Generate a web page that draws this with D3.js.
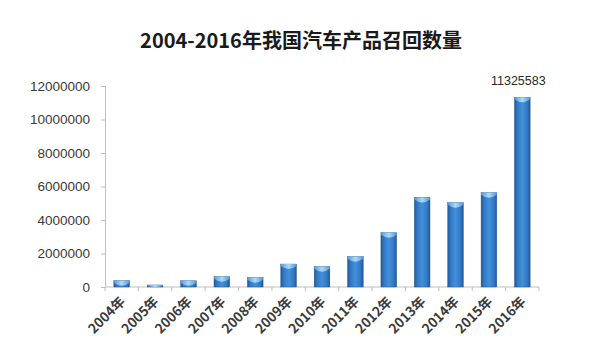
<!DOCTYPE html>
<html><head><meta charset="utf-8">
<script src="https://cdn.jsdelivr.net/npm/d3@7"></script>
<style>body{margin:0;background:#fff}svg{display:block}</style>
</head><body>
<script>
const categories = ["2004年","2005年","2006年","2007年","2008年","2009年","2010年","2011年","2012年","2013年","2014年","2015年","2016年"];
const values = [375000, 120000, 370000, 615000, 555000, 1370000, 1210000, 1810000, 3240000, 5350000, 5030000, 5630000, 11325583];
const yTicks = [0, 2000000, 4000000, 6000000, 8000000, 10000000, 12000000];
const title = "2004-2016年我国汽车产品召回数量";
const labeledIndex = 12;

const W = 600, H = 359;
const svg = d3.select("body").append("svg").attr("width", W).attr("height", H);
const defs = svg.append("defs");
const g1 = defs.append("linearGradient").attr("id","barG").attr("x1","0").attr("x2","1").attr("y1","0").attr("y2","0");
g1.append("stop").attr("offset","0").attr("stop-color","#22599a");
g1.append("stop").attr("offset","0.2").attr("stop-color","#3479c4");
g1.append("stop").attr("offset","0.5").attr("stop-color","#4290dc");
g1.append("stop").attr("offset","0.8").attr("stop-color","#3479c4");
g1.append("stop").attr("offset","1").attr("stop-color","#22599a");
const g2 = defs.append("linearGradient").attr("id","capG").attr("x1","0").attr("x2","1").attr("y1","0").attr("y2","0");
g2.append("stop").attr("offset","0").attr("stop-color","#5597d6");
g2.append("stop").attr("offset","0.5").attr("stop-color","#abdaf9");
g2.append("stop").attr("offset","1").attr("stop-color","#5597d6");

const x = d3.scaleBand().domain(categories).range([105, 539]).paddingInner(0.53).paddingOuter(0.265);
const y = d3.scaleLinear().domain([0, 12000000]).range([287, 86]);

svg.append("text").attr("x", 301).attr("y", 48).attr("text-anchor","middle")
  .attr("font-family","'Noto Sans CJK SC', sans-serif").attr("font-weight","bold")
  .attr("font-size", 20).attr("fill","#1a1a1a").text(title);

// Y axis
const ya = svg.append("g").attr("transform","translate(105,0)")
  .call(d3.axisLeft(y).tickValues(yTicks).tickSize(4).tickPadding(11).tickFormat(d3.format("d")));
ya.select(".domain").attr("stroke","#bfbfbf");
ya.selectAll(".tick line").attr("stroke","#bfbfbf");
ya.selectAll(".tick text").attr("font-family","'Liberation Sans', Arial, sans-serif")
  .attr("font-size", 13.5).attr("fill","#3a3a3a");

// X axis
const xb = d3.scaleLinear().domain([0, categories.length]).range([105, 539]);
const xa = svg.append("g").attr("transform","translate(0,287)");
xa.append("line").attr("x1",105).attr("x2",539).attr("stroke","#bfbfbf");
xa.selectAll("line.t").data(d3.range(categories.length+1)).join("line").attr("class","t")
  .attr("x1", d=>xb(d)).attr("x2", d=>xb(d)).attr("y1",0).attr("y2",4).attr("stroke","#bfbfbf");
xa.selectAll("text").data(categories).join("text")
  .attr("transform", d => `translate(${x(d)+x.bandwidth()/2+1},${12}) rotate(-45)`)
  .attr("text-anchor","end").attr("dy","0.35em")
  .attr("font-family","'Noto Sans CJK SC', sans-serif").attr("font-weight","bold")
  .attr("font-size", 13.5).attr("fill","#3a3a3a").text(d=>d);

// Bars
const bars = svg.append("g");
categories.forEach((c, i) => {
  const bx = x(c), bw = x.bandwidth(), by = y(values[i]), bh = y(0) - y(values[i]);
  bars.append("rect").attr("x", bx).attr("y", by).attr("width", bw).attr("height", bh)
    .attr("fill","url(#barG)").attr("stroke","#1f4f88").attr("stroke-width",0.4);
  const ch = Math.min(5, bh);
  bars.append("path")
    .attr("d", `M${bx},${by} L${bx+bw},${by} L${bx+bw},${by+ch*0.4} Q${bx+bw/2},${by+ch*1.6} ${bx},${by+ch*0.4} Z`)
    .attr("fill","url(#capG)");
});

svg.append("text").attr("x", x(categories[labeledIndex]) + x.bandwidth()/2 - 4).attr("y", 85)
  .attr("text-anchor","middle").attr("font-family","'Liberation Sans', Arial, sans-serif")
  .attr("font-size", 12.5).attr("fill","#2a2a2a").text(d3.format("d")(values[labeledIndex]));
</script>
</body></html>
